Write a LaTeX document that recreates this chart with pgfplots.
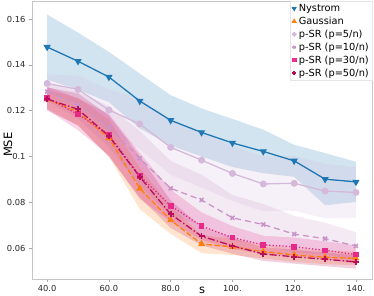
\documentclass[border=0pt]{standalone}
\usepackage{pgfplots}
\pgfplotsset{compat=1.18}
\usepgfplotslibrary{fillbetween}
\usepackage{fontspec}
\setmainfont{DejaVu Sans}
\definecolor{nys}{RGB}{31,119,180}
\definecolor{gau}{RGB}{255,127,14}
\definecolor{pa}{RGB}{212,185,218}
\definecolor{pb}{RGB}{201,148,199}
\definecolor{pc}{RGB}{231,41,138}
\definecolor{pd}{RGB}{185,14,90}
\pgfplotstableread{
x m lo hi
40 0.1478 0.1336 0.1620
50 0.1416 0.1291 0.1541
60 0.1347 0.1237 0.1457
70 0.1242 0.1122 0.1362
80 0.1158 0.1048 0.1268
90 0.1105 0.1000 0.1210
100 0.1059 0.0954 0.1164
110 0.1022 0.0927 0.1117
120 0.0981 0.0911 0.1051
130 0.0901 0.0787 0.1015
140 0.0889 0.0801 0.0977
}\nys
\pgfplotstableread{
x m lo hi
40 0.1250 0.1210 0.1290
50 0.1195 0.1135 0.1255
60 0.1080 0.1000 0.1160
70 0.0860 0.0770 0.0950
80 0.0722 0.0662 0.0782
90 0.0618 0.0578 0.0658
100 0.0605 0.0570 0.0640
110 0.0585 0.0555 0.0615
120 0.0570 0.0540 0.0600
130 0.0560 0.0530 0.0590
140 0.0555 0.0525 0.0585
}\gau
\pgfplotstableread{
x m lo hi
40 0.1319 0.1279 0.1359
50 0.1293 0.1233 0.1353
60 0.1203 0.1113 0.1293
70 0.1142 0.1032 0.1252
80 0.1040 0.0920 0.1160
90 0.0984 0.0864 0.1104
100 0.0926 0.0806 0.1046
110 0.0880 0.0760 0.1000
120 0.0883 0.0763 0.1003
130 0.0849 0.0729 0.0969
140 0.0843 0.0733 0.0953
}\pa
\pgfplotstableread{
x m lo hi
40 0.1283 0.1243 0.1323
50 0.1224 0.1164 0.1284
60 0.1130 0.1040 0.1220
70 0.0992 0.0872 0.1112
80 0.0861 0.0741 0.0981
90 0.0810 0.0700 0.0920
100 0.0732 0.0632 0.0832
110 0.0703 0.0613 0.0793
120 0.0661 0.0581 0.0741
130 0.0641 0.0571 0.0711
140 0.0609 0.0549 0.0669
}\pb
\pgfplotstableread{
x m lo hi
40 0.1255 0.1205 0.1305
50 0.1184 0.1114 0.1254
60 0.1095 0.1005 0.1185
70 0.0915 0.0815 0.1015
80 0.0785 0.0715 0.0855
90 0.0696 0.0636 0.0756
100 0.0646 0.0596 0.0696
110 0.0614 0.0574 0.0654
120 0.0606 0.0566 0.0646
130 0.0590 0.0550 0.0630
140 0.0572 0.0532 0.0612
}\pc
\pgfplotstableread{
x m lo hi
40 0.1251 0.1201 0.1301
50 0.1206 0.1136 0.1276
60 0.1089 0.0999 0.1179
70 0.0911 0.0821 0.1001
80 0.0748 0.0688 0.0808
90 0.0652 0.0612 0.0692
100 0.0610 0.0575 0.0645
110 0.0574 0.0544 0.0604
120 0.0562 0.0532 0.0592
130 0.0551 0.0521 0.0581
140 0.0540 0.0510 0.0570
}\pd
\begin{document}
\begin{tikzpicture}
\begin{axis}[
  scale only axis, width=340pt, height=278pt,
  xmin=35.1, xmax=145.2, ymin=0.0465, ymax=0.1679,
  xtick={40,60,80,100,120,140},
  xticklabels={40.0,60.0,80.0,100.,120.,140.},
  ytick={0.06,0.08,0.1,0.12,0.14,0.16},
  yticklabels={0.06,0.08,0.1,0.12,0.14,0.16},
  /pgf/number format/assume math mode=true,
  tick label style={font=\fontsize{8.3}{10}\selectfont, text=black!85},
  xtick pos=bottom, ytick pos=left, tick align=outside,
  major tick length=3pt, tick style={gray!70, line width=0.6pt},
  axis line style={gray!45, line width=0.7pt},
  xlabel={s}, ylabel={MSE},
  label style={font=\fontsize{11.5}{13}\selectfont, inner sep=0.5pt},
  xlabel style={at={(axis description cs:0.5,-0.04)}, anchor=center},
  ylabel style={at={(axis description cs:-0.071,0.483)}, anchor=center},
  legend style={at={(rel axis cs:1,1)}, anchor=north east,
    draw=gray!20, fill=white, fill opacity=0.8, text opacity=1,
    font=\fontsize{9.8}{12}\selectfont, inner sep=1pt, row sep=0pt,
    cells={anchor=west}, legend image post style={mark size=1.7pt}},
  legend image code/.code={\draw[mark repeat=2,mark phase=2] plot coordinates {(0cm,0cm)(0.07cm,0cm)(0.14cm,0cm)};},
  legend cell align=left,
]
\coordinate (ll) at (rel axis cs:0,0);
\coordinate (ur) at (rel axis cs:1,1);
% bands
\addplot[name path=nh, draw=none, forget plot] table[x=x,y=hi]{\nys};
\addplot[name path=nl, draw=none, forget plot] table[x=x,y=lo]{\nys};
\addplot[fill=nys, fill opacity=0.2, draw=none, forget plot] fill between[of=nh and nl];
\addplot[name path=gh, draw=none, forget plot] table[x=x,y=hi]{\gau};
\addplot[name path=gl, draw=none, forget plot] table[x=x,y=lo]{\gau};
\addplot[fill=gau, fill opacity=0.2, draw=none, forget plot] fill between[of=gh and gl];
\addplot[name path=ah, draw=none, forget plot] table[x=x,y=hi]{\pa};
\addplot[name path=al, draw=none, forget plot] table[x=x,y=lo]{\pa};
\addplot[fill=pa, fill opacity=0.2, draw=none, forget plot] fill between[of=ah and al];
\addplot[name path=bh, draw=none, forget plot] table[x=x,y=hi]{\pb};
\addplot[name path=bl, draw=none, forget plot] table[x=x,y=lo]{\pb};
\addplot[fill=pb, fill opacity=0.2, draw=none, forget plot] fill between[of=bh and bl];
\addplot[name path=ch, draw=none, forget plot] table[x=x,y=hi]{\pc};
\addplot[name path=cl, draw=none, forget plot] table[x=x,y=lo]{\pc};
\addplot[fill=pc, fill opacity=0.2, draw=none, forget plot] fill between[of=ch and cl];
\addplot[name path=dh, draw=none, forget plot] table[x=x,y=hi]{\pd};
\addplot[name path=dl, draw=none, forget plot] table[x=x,y=lo]{\pd};
\addplot[fill=pd, fill opacity=0.2, draw=none, forget plot] fill between[of=dh and dl];
% lines
\addplot[nys, line width=1.3pt, mark=triangle*, mark size=3pt, mark options={rotate=180, solid, fill=nys}] table[x=x,y=m]{\nys};
\addlegendentry{Nystrom}
\addplot[gau, line width=1.3pt, dash pattern=on 5.5pt off 2.4pt, mark=triangle*, mark size=2.8pt, mark options={solid, fill=gau}] table[x=x,y=m]{\gau};
\addlegendentry{Gaussian}
\addplot[pa, line width=1.3pt, mark=*, mark size=2.8pt, mark options={solid, fill=pa}] table[x=x,y=m]{\pa};
\addlegendentry{p-SR (p=5/n)}
\addplot[pb, line width=1.3pt, dash pattern=on 6pt off 4pt, mark=x, mark size=2.8pt, mark options={solid, line width=1.6pt}] table[x=x,y=m]{\pb};
\addlegendentry{p-SR (p=10/n)}
\addplot[pc, line width=1.3pt, dash pattern=on 1.3pt off 2pt, mark=square*, mark size=2.2pt, mark options={solid, fill=pc}] table[x=x,y=m]{\pc};
\addlegendentry{p-SR (p=30/n)}
\addplot[pd, line width=1.3pt, dash pattern=on 7pt off 2.2pt on 1.4pt off 2.2pt, mark=+, mark size=3pt, mark options={solid, line width=1.7pt}] table[x=x,y=m]{\pd};
\addlegendentry{p-SR (p=50/n)}
\end{axis}
\pgfresetboundingbox
\path ([shift={(-32pt,-17pt)}]ll) rectangle ([shift={(2pt,1pt)}]ur);
\end{tikzpicture}
\end{document}
